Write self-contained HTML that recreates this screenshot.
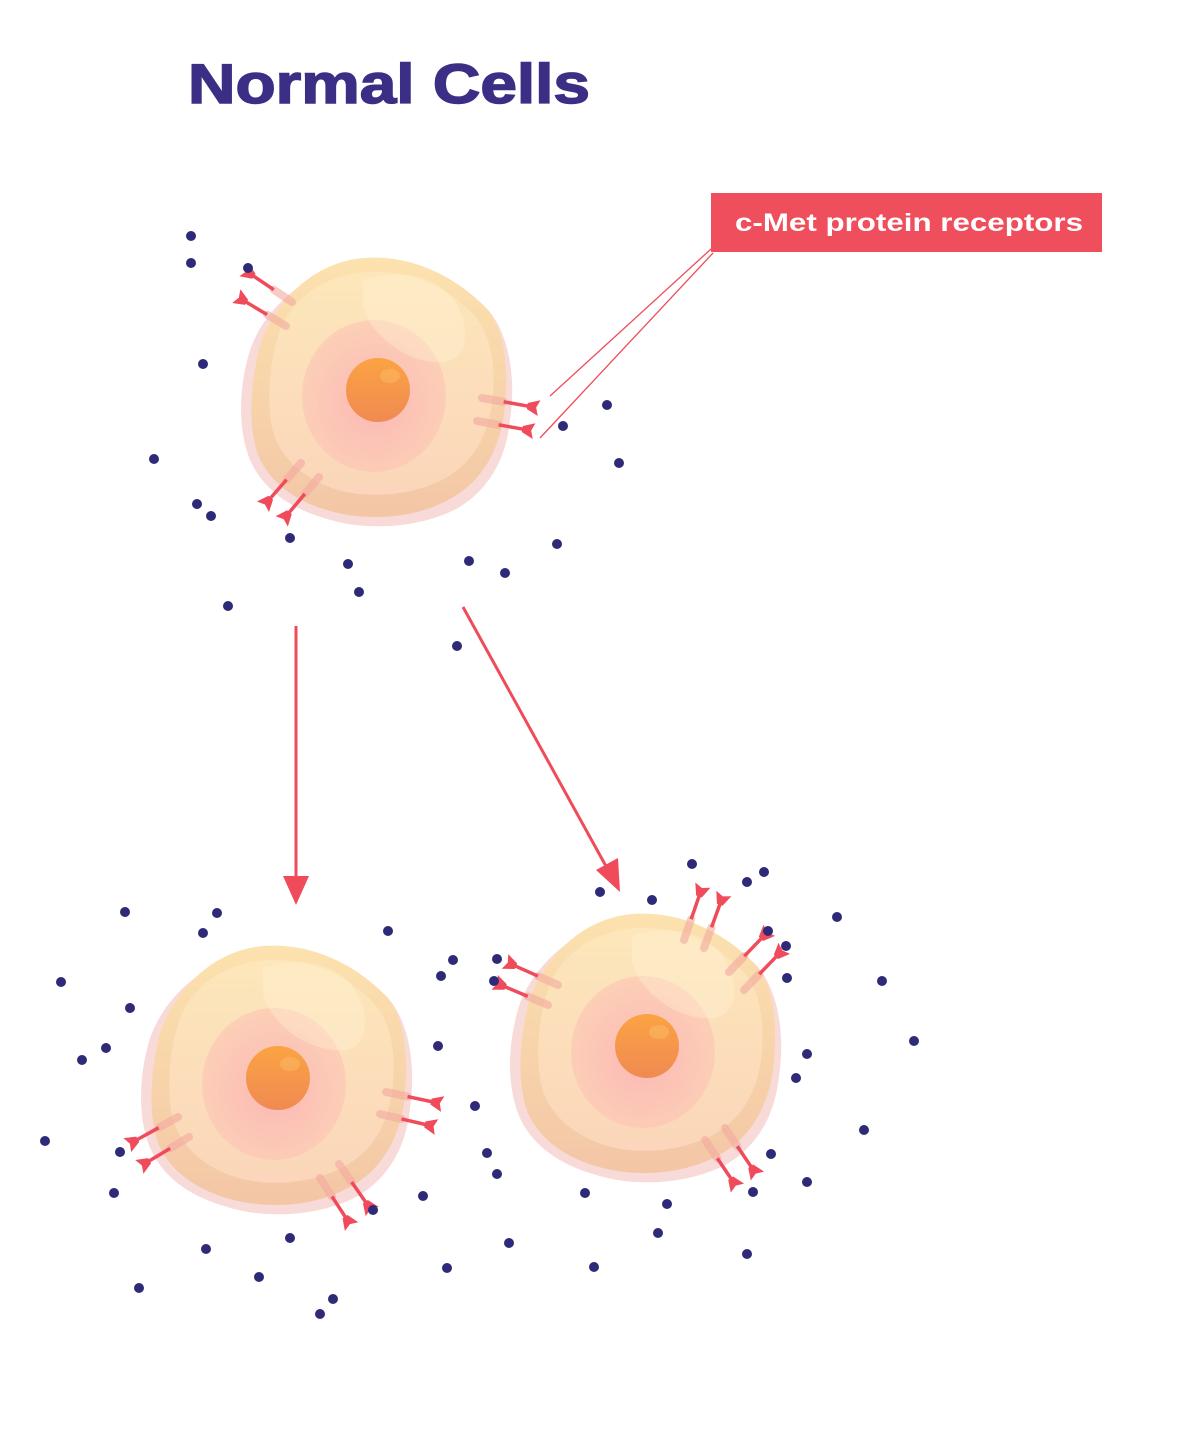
<!DOCTYPE html>
<html><head><meta charset="utf-8"><style>
html,body{margin:0;padding:0;background:#fff;}
svg{display:block}
</style></head><body>
<svg width="1200" height="1429" viewBox="0 0 1200 1429" xmlns="http://www.w3.org/2000/svg">
<defs>
<linearGradient id="body" x1="0" y1="0" x2="0" y2="1">
<stop offset="0" stop-color="#fce2ae"/><stop offset="1" stop-color="#f3c6a6"/></linearGradient>
<linearGradient id="ring" x1="0" y1="0" x2="0" y2="1">
<stop offset="0" stop-color="#fde8bc"/><stop offset="1" stop-color="#fcd8bd"/></linearGradient>
<radialGradient id="inner" cx="0.5" cy="0.55" r="0.55">
<stop offset="0" stop-color="#fcb8b5"/><stop offset="1" stop-color="#fcd0b6"/></radialGradient>
<linearGradient id="nuc" x1="0" y1="0" x2="0" y2="1">
<stop offset="0" stop-color="#fba343"/><stop offset="1" stop-color="#f08a52"/></linearGradient>
<g id="cell">
<path d="M-10,-128 C40,-132 80,-110 110,-80 C132,-55 138,-10 132,30 C128,70 110,100 80,118 C50,134 10,140 -30,134 C-70,126 -110,110 -128,70 C-140,40 -140,0 -128,-40 C-110,-90 -60,-125 -10,-128 Z" fill="#f7d6d4" opacity="0.9"/>
<path d="M-15,-132 C35,-136 80,-112 110,-80 C130,-55 130,-10 126,25 C120,65 100,95 70,110 C40,126 5,130 -30,125 C-70,118 -105,100 -120,65 C-130,35 -128,-5 -118,-45 C-100,-95 -60,-128 -15,-132 Z" fill="url(#body)"/>
<path d="M-10,-118 C35,-120 75,-100 100,-70 C118,-45 118,-5 112,25 C105,58 85,82 55,94 C25,106 -10,108 -40,100 C-72,90 -98,70 -106,38 C-112,5 -108,-35 -96,-65 C-78,-100 -45,-116 -10,-118 Z" fill="url(#ring)" opacity="0.85"/>
<ellipse cx="-4" cy="6" rx="72" ry="76" fill="url(#inner)"/>
<path d="M-15,-110 C30,-125 75,-110 85,-70 C92,-40 80,-25 55,-28 C20,-32 -10,-60 -15,-85 Z" fill="#fff3d8" opacity="0.35"/>
<circle cx="0" cy="0" r="32" fill="url(#nuc)"/>
<ellipse cx="12" cy="-14" rx="10" ry="7" fill="#fbb560" opacity="0.6"/>
</g>
<g id="rec">
<line x1="0" y1="0" x2="22" y2="0" stroke="#f4a9a0" stroke-width="8" stroke-linecap="round" opacity="0.6"/>
<line x1="22" y1="0" x2="50" y2="0" stroke="#ef4b5a" stroke-width="3.5"/>
<path d="M46,-3 L58,-8 L55,0 L58,8 L46,3 Z" fill="#ef4b5a"/>
</g>
</defs>

<text x="188" y="103" textLength="402" lengthAdjust="spacingAndGlyphs" font-family="Liberation Sans, sans-serif" font-weight="bold" font-size="56" fill="#3b2f85" stroke="#3b2f85" stroke-width="1.5">Normal Cells</text>

<rect x="711" y="193" width="391" height="59" fill="#ef4f5c"/>
<text x="735" y="231" textLength="348" lengthAdjust="spacingAndGlyphs" font-family="Liberation Sans, sans-serif" font-weight="bold" font-size="25" fill="#fff">c-Met protein receptors</text>
<line x1="711" y1="249" x2="550" y2="396" stroke="#ef4b5a" stroke-width="1.3"/>
<line x1="713" y1="253" x2="540" y2="438" stroke="#ef4b5a" stroke-width="1.3"/>

<use href="#cell" transform="translate(378,390)"/>
<use href="#cell" transform="translate(278,1078)"/>
<use href="#cell" transform="translate(647,1046)"/>

<use href="#rec" transform="translate(292,302) rotate(214)"/>
<use href="#rec" transform="translate(286,326) rotate(211)"/>
<use href="#rec" transform="translate(482,398) rotate(10)"/>
<use href="#rec" transform="translate(477,421) rotate(10)"/>
<use href="#rec" transform="translate(301,463) rotate(131)"/>
<use href="#rec" transform="translate(319,477) rotate(130)"/>
<use href="#rec" transform="translate(386,1092) rotate(12)"/>
<use href="#rec" transform="translate(380,1114) rotate(13)"/>
<use href="#rec" transform="translate(178,1117) rotate(151)"/>
<use href="#rec" transform="translate(189,1137) rotate(149)"/>
<use href="#rec" transform="translate(320,1178) rotate(57)"/>
<use href="#rec" transform="translate(339,1164) rotate(55)"/>
<use href="#rec" transform="translate(684,940) rotate(-71)"/>
<use href="#rec" transform="translate(704,948) rotate(-70)"/>
<use href="#rec" transform="translate(729,972) rotate(-46)"/>
<use href="#rec" transform="translate(744,990) rotate(-46)"/>
<use href="#rec" transform="translate(558,985) rotate(204)"/>
<use href="#rec" transform="translate(548,1005) rotate(203)"/>
<use href="#rec" transform="translate(705,1140) rotate(56)"/>
<use href="#rec" transform="translate(725,1128) rotate(56)"/>

<line x1="296" y1="626" x2="296" y2="880" stroke="#ef4b5a" stroke-width="3"/>
<path d="M283,876 L309,876 L296,905 Z" fill="#ef4b5a"/>
<line x1="463" y1="607" x2="607" y2="868" stroke="#ef4b5a" stroke-width="3"/>
<path d="M596,870 L618,858 L620,892 Z" fill="#ef4b5a"/>

<g fill="#2f2a78">
<circle cx="191" cy="236" r="5"/><circle cx="191" cy="263" r="5"/><circle cx="248" cy="268" r="5"/><circle cx="203" cy="364" r="5"/><circle cx="154" cy="459" r="5"/><circle cx="197" cy="504" r="5"/><circle cx="211" cy="516" r="5"/><circle cx="290" cy="538" r="5"/><circle cx="348" cy="564" r="5"/><circle cx="359" cy="592" r="5"/><circle cx="228" cy="606" r="5"/><circle cx="469" cy="561" r="5"/><circle cx="505" cy="573" r="5"/><circle cx="557" cy="544" r="5"/><circle cx="457" cy="646" r="5"/><circle cx="563" cy="426" r="5"/><circle cx="607" cy="405" r="5"/><circle cx="619" cy="463" r="5"/>
<circle cx="125" cy="912" r="5"/><circle cx="217" cy="913" r="5"/><circle cx="203" cy="933" r="5"/><circle cx="388" cy="931" r="5"/><circle cx="61" cy="982" r="5"/><circle cx="130" cy="1008" r="5"/><circle cx="106" cy="1048" r="5"/><circle cx="82" cy="1060" r="5"/><circle cx="45" cy="1141" r="5"/><circle cx="120" cy="1152" r="5"/><circle cx="114" cy="1193" r="5"/><circle cx="206" cy="1249" r="5"/><circle cx="139" cy="1288" r="5"/><circle cx="259" cy="1277" r="5"/><circle cx="290" cy="1238" r="5"/><circle cx="333" cy="1299" r="5"/><circle cx="320" cy="1314" r="5"/><circle cx="373" cy="1210" r="5"/><circle cx="423" cy="1196" r="5"/><circle cx="447" cy="1268" r="5"/><circle cx="438" cy="1046" r="5"/><circle cx="475" cy="1106" r="5"/><circle cx="487" cy="1153" r="5"/><circle cx="497" cy="1174" r="5"/><circle cx="509" cy="1243" r="5"/><circle cx="441" cy="976" r="5"/><circle cx="453" cy="960" r="5"/><circle cx="497" cy="959" r="5"/><circle cx="494" cy="981" r="5"/><circle cx="600" cy="892" r="5"/><circle cx="652" cy="900" r="5"/><circle cx="692" cy="864" r="5"/><circle cx="747" cy="882" r="5"/><circle cx="764" cy="872" r="5"/><circle cx="837" cy="917" r="5"/><circle cx="768" cy="931" r="5"/><circle cx="786" cy="946" r="5"/><circle cx="787" cy="978" r="5"/><circle cx="882" cy="981" r="5"/><circle cx="914" cy="1041" r="5"/><circle cx="807" cy="1054" r="5"/><circle cx="796" cy="1078" r="5"/><circle cx="864" cy="1130" r="5"/><circle cx="807" cy="1182" r="5"/><circle cx="771" cy="1154" r="5"/><circle cx="753" cy="1192" r="5"/><circle cx="667" cy="1204" r="5"/><circle cx="658" cy="1233" r="5"/><circle cx="585" cy="1193" r="5"/><circle cx="594" cy="1267" r="5"/><circle cx="747" cy="1254" r="5"/>
</g>
</svg>
</body></html>
